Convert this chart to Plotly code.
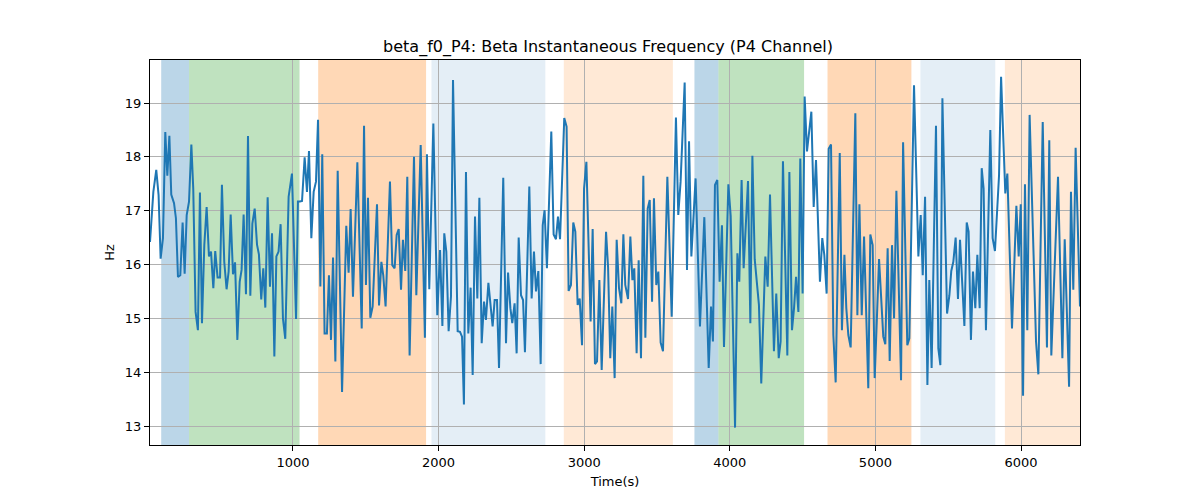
import plotly.graph_objects as go

# ---- data ----
time_s = [
    18, 41, 61, 77, 91, 107, 123, 137, 151, 164, 183, 196, 210, 226, 242, 256, 270, 286, 302, 315, 331, 347, 361, 375, 391, 407, 423, 437, 453, 466, 482, 499, 512, 528, 544, 558, 572, 588, 602, 618, 634, 647, 661,
    677, 691, 707, 721, 737, 753, 766, 782, 796, 810, 826, 842, 856, 872, 886, 901, 915, 931, 947, 970, 993, 1021, 1034, 1048, 1062, 1080, 1096, 1110, 1126, 1142, 1158, 1172, 1188, 1201, 1217, 1233, 1247, 1261, 1275, 1291, 1307,
    1337, 1366, 1382, 1396, 1412, 1442, 1472, 1488, 1501, 1515, 1531, 1547, 1577, 1591, 1607, 1620, 1636, 1666, 1682, 1698, 1712, 1726, 1742, 1755, 1771, 1785, 1801, 1831, 1847, 1877, 1906, 1920, 1936,
    1964, 1991, 2010, 2026, 2039, 2053, 2069, 2085, 2099, 2131, 2147, 2161, 2174, 2188, 2204, 2220, 2234, 2250, 2266, 2280, 2296, 2312, 2325, 2342, 2355, 2371, 2385, 2401, 2415, 2444, 2463, 2477, 2493, 2506, 2522, 2536, 2550, 2566, 2580, 2593,
    2623, 2639, 2655, 2669, 2685, 2701, 2715, 2728, 2744, 2774, 2790, 2806, 2820, 2834, 2863, 2879, 2893, 2909, 2925, 2939, 2955, 2969, 2985, 2999, 3015, 3044, 3058, 3074, 3088, 3104, 3120, 3150, 3164, 3179, 3193, 3209, 3223, 3239,
    3255, 3269, 3282, 3301, 3317, 3331, 3344, 3360, 3374, 3390, 3406, 3420, 3436, 3450, 3466, 3479, 3495, 3509, 3525, 3541, 3571, 3601, 3630, 3646, 3662, 3690, 3706, 3720, 3736, 3765, 3795, 3825, 3855, 3871, 3884,
    3898, 3914, 3930, 3946, 3960, 3990, 4006, 4036, 4052, 4065, 4081, 4095, 4125, 4141, 4155, 4171, 4187, 4200, 4216, 4244, 4260, 4276, 4303, 4319, 4336, 4349, 4365, 4395, 4409, 4427, 4441, 4455, 4471, 4484, 4500, 4514, 4530,
    4560, 4576, 4592, 4619, 4635, 4649, 4665, 4679, 4695, 4711, 4727, 4755, 4770, 4787, 4800, 4814, 4830, 4862, 4876, 4890, 4906, 4922, 4951, 4965, 4981, 4995, 5025, 5054, 5068, 5084, 5098, 5114, 5128, 5144, 5176,
    5190, 5219, 5233, 5265, 5295, 5311, 5325, 5341, 5357, 5370, 5386, 5416, 5432, 5446, 5460, 5492, 5508, 5521, 5535, 5551, 5567, 5581, 5611, 5627, 5640, 5656, 5670, 5686, 5700, 5716, 5730, 5743, 5759, 5789, 5805, 5821,
    5849, 5863, 5892, 5906, 5938, 5968, 5984, 5998, 6014, 6027, 6043, 6059, 6103, 6119, 6149, 6178, 6194, 6208, 6254, 6284, 6300, 6330, 6343, 6359, 6375, 6405,
]

freq_hz = [
    16.42, 17.35, 17.76, 17.29, 16.11, 16.49, 18.46, 17.65, 18.39, 17.30, 17.14, 16.86, 15.77, 15.80, 16.78, 15.83, 16.92, 17.17, 18.23, 17.41, 15.12, 14.78, 17.34, 14.91, 16.36, 17.07, 16.15, 16.24, 15.56, 16.25, 15.76, 15.76, 17.48, 16.05, 15.54, 15.87, 16.93, 15.82, 16.04, 14.60, 15.68, 15.90, 16.93,
    15.45, 18.39, 15.42, 16.76, 17.04, 16.37, 16.19, 15.35, 15.93, 15.20, 17.25, 15.59, 16.58, 14.29, 16.15, 16.24, 16.75, 15.00, 14.62, 17.26, 17.69, 14.99, 17.17, 17.17, 17.18, 17.99, 17.35, 18.11, 16.49, 17.35, 17.54, 18.69, 15.59, 18.05, 14.72, 14.72, 15.80, 14.60, 16.13, 14.20, 17.74,
    13.63, 16.72, 15.85, 17.03, 15.40, 17.90, 14.81, 18.58, 15.62, 17.24, 15.01, 15.22, 17.12, 15.24, 16.05, 15.80, 15.22, 17.54, 15.99, 15.93, 16.55, 16.66, 15.53, 16.46, 15.88, 17.63, 14.31, 18.00, 15.43, 18.22, 14.64, 18.05, 15.54,
    18.62, 15.06, 16.27, 14.86, 16.58, 16.24, 14.76, 15.40, 19.43, 14.76, 14.75, 14.66, 13.40, 17.72, 14.72, 15.57, 13.95, 16.89, 15.37, 17.24, 14.54, 15.31, 14.97, 15.66, 15.31, 14.85, 15.34, 15.34, 14.08, 17.61, 14.54, 15.85, 15.19, 14.91, 15.28, 14.35, 16.50, 15.43, 15.34, 14.37,
    17.45, 15.37, 16.24, 15.50, 15.88, 14.15, 16.73, 17.01, 15.93, 18.47, 16.56, 16.47, 16.89, 16.47, 18.72, 18.56, 15.51, 15.62, 16.78, 16.61, 15.25, 15.37, 14.50, 17.41, 17.91, 14.94, 16.66, 14.15, 14.20, 15.71, 14.04, 16.61, 15.95, 14.26, 15.22, 13.89, 16.46, 15.56,
    15.28, 16.56, 15.62, 15.36, 16.52, 15.71, 15.93, 14.35, 16.08, 14.26, 17.65, 14.64, 17.04, 17.20, 15.31, 17.23, 15.62, 15.87, 14.55, 14.39, 17.63, 15.03, 18.73, 16.92, 17.54, 19.38, 15.90, 18.29, 16.15, 17.60, 14.85, 16.88, 14.08, 15.22, 14.57,
    17.48, 17.57, 15.68, 16.73, 14.47, 17.49, 16.90, 12.97, 16.21, 15.68, 17.57, 15.93, 17.55, 14.91, 18.02, 16.10, 15.56, 15.25, 13.79, 16.15, 15.59, 17.30, 14.39, 15.46, 14.26, 14.57, 17.92, 14.31, 17.72, 14.78, 15.19, 15.77, 15.12, 17.97, 15.46, 19.12, 18.10,
    18.84, 17.07, 17.94, 15.68, 16.49, 16.18, 15.46, 18.15, 18.23, 14.69, 13.81, 18.07, 14.78, 16.18, 15.19, 14.69, 14.46, 18.81, 15.06, 17.12, 15.06, 16.52, 13.70, 16.56, 16.36, 13.89, 16.10, 14.66, 14.52, 16.30, 14.21, 16.36, 15.00, 17.37, 13.85,
    18.27, 14.50, 14.63, 19.33, 16.15, 16.92, 15.80, 17.26, 13.76, 15.71, 14.08, 18.58, 14.44, 14.13, 19.09, 15.09, 15.43, 15.88, 16.05, 16.50, 15.36, 16.46, 14.86, 16.78, 16.61, 14.60, 15.87, 15.19, 16.18, 15.19, 17.79, 17.41, 14.78, 18.50, 16.49, 16.25,
    17.66, 19.49, 17.32, 17.69, 14.81, 17.09, 16.15, 17.12, 13.56, 17.49, 14.78, 18.78, 14.57, 13.96, 18.65, 14.46, 18.31, 14.31, 17.63, 14.26, 16.47, 13.73, 17.35, 15.53, 18.17, 15.22,
]

# shaded segments (start, end, kind)
region_start = [95, 286, 1173, 1951, 2860, 3757, 3922, 4671, 5309, 5889]
region_end = [286, 1045, 1914, 2733, 3609, 3922, 4510, 5247, 5823, 6405]
region_kind = ["blue", "green", "orange", "lightblue", "lightorange",
               "blue", "green", "orange", "lightblue", "lightorange"]

x_ticks = [1000, 2000, 3000, 4000, 5000, 6000]
y_ticks = [13, 14, 15, 16, 17, 18, 19]

assert len(time_s) == len(freq_hz)

kind_color = {
    "blue": "rgba(31,119,180,0.3)",
    "green": "rgba(44,160,44,0.3)",
    "orange": "rgba(255,127,14,0.3)",
    "lightblue": "rgba(31,119,180,0.12)",
    "lightorange": "rgba(255,127,14,0.17)",
}

fig = go.Figure()
fig.add_trace(go.Scatter(
    x=time_s, y=freq_hz, mode="lines",
    line=dict(color="#1f77b4", width=2),
    showlegend=False, hoverinfo="x+y",
))

for s, e, k in zip(region_start, region_end, region_kind):
    fig.add_vrect(x0=s, x1=e, fillcolor=kind_color[k], line_width=0, layer="below")

font_family = "DejaVu Sans, sans-serif"
fig.update_layout(
    width=1200, height=500,
    margin=dict(l=142, r=128, t=52, b=63),
    paper_bgcolor="white", plot_bgcolor="white",
    font=dict(family=font_family, size=13, color="black"),
    title=dict(text="beta_f0_P4: Beta Instantaneous Frequency (P4 Channel)",
               x=0.5, xanchor="center", y=0.924, yanchor="middle",
               font=dict(size=16, color="black", family=font_family)),
    showlegend=False,
)
fig.update_xaxes(
    range=[18, 6405], tickvals=x_ticks, ticktext=[str(v) for v in x_ticks],
    showgrid=True, gridcolor="#b0b0b0", gridwidth=1,
    showline=True, linecolor="black", linewidth=1, mirror=True,
    ticks="outside", ticklen=5, tickcolor="black", zeroline=False,
    title=dict(text="Time(s)", font=dict(size=13), standoff=8),
)
fig.update_yaxes(
    range=[12.647, 19.80], tickvals=y_ticks, ticktext=[str(v) for v in y_ticks],
    showgrid=True, gridcolor="#b0b0b0", gridwidth=1,
    showline=True, linecolor="black", linewidth=1, mirror=True,
    ticks="outside", ticklen=5, tickcolor="black", zeroline=False,
    title=dict(text="Hz", font=dict(size=13), standoff=7),
)

fig.write_html("out.html")
